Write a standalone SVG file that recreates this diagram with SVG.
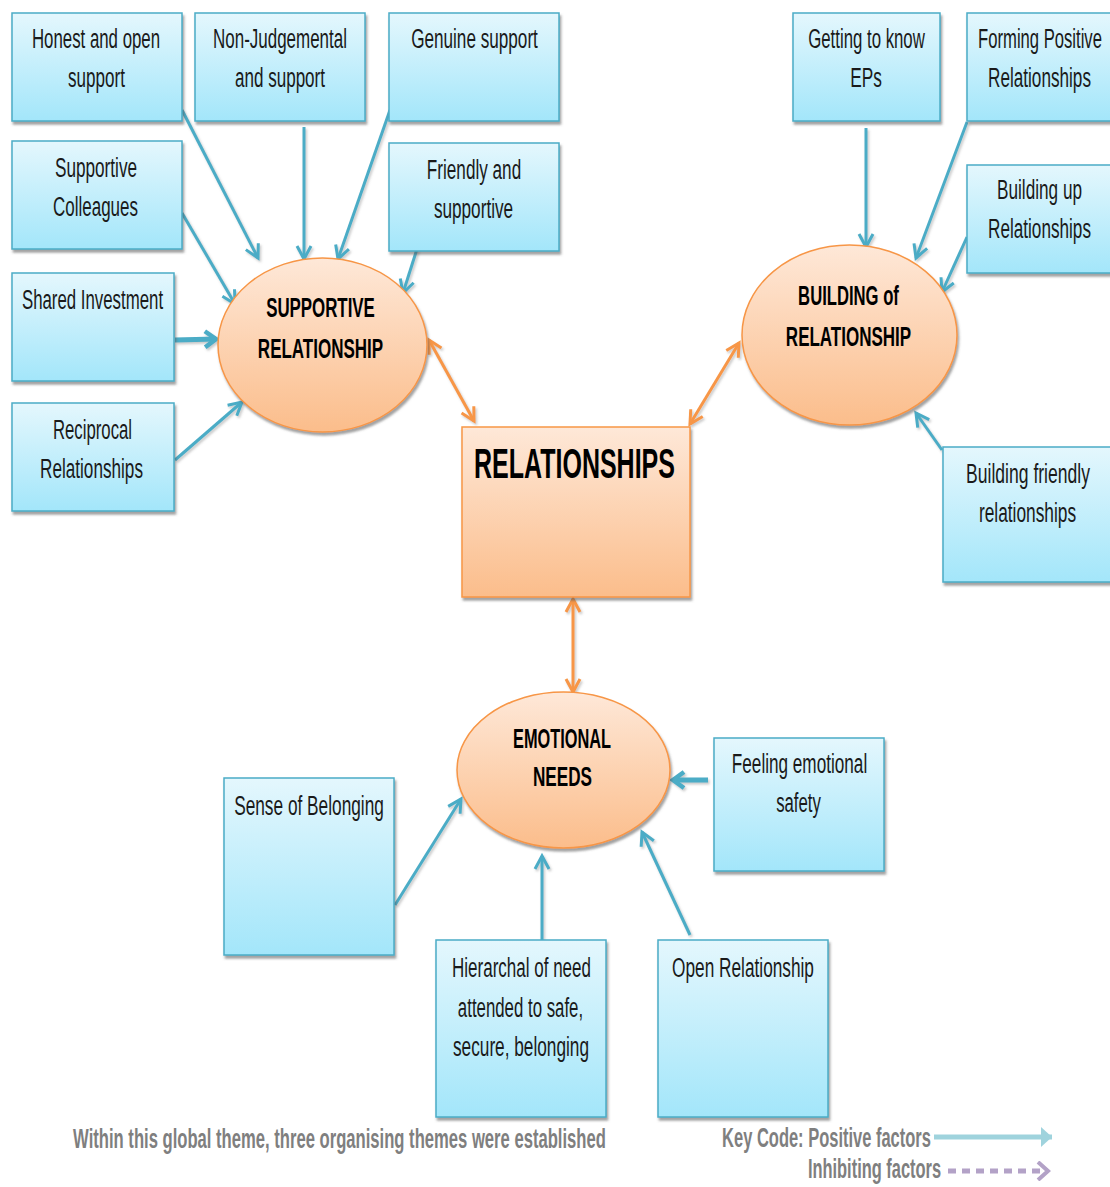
<svg xmlns="http://www.w3.org/2000/svg" width="1110" height="1187" viewBox="0 0 1110 1187">
  <defs>
    <linearGradient id="gBox" x1="0" y1="0" x2="0" y2="1">
      <stop offset="0" stop-color="#e4f7fd"/>
      <stop offset="1" stop-color="#a3e6fa"/>
    </linearGradient>
    <linearGradient id="gOrange" x1="0" y1="0" x2="0" y2="1">
      <stop offset="0" stop-color="#fee8d8"/>
      <stop offset="1" stop-color="#fbbd8b"/>
    </linearGradient>
    <filter id="shadow" x="-10%" y="-10%" width="130%" height="130%">
      <feDropShadow dx="1.5" dy="3" stdDeviation="1.2" flood-color="#555" flood-opacity="0.55"/>
    </filter>
    <filter id="lineShadow" x="-10%" y="-10%" width="130%" height="130%">
      <feDropShadow dx="1.5" dy="2" stdDeviation="1" flood-color="#666" flood-opacity="0.35"/>
    </filter>
    <marker id="headBlue" viewBox="-16 -10 20 20" markerWidth="20" markerHeight="20" refX="0" refY="0" orient="auto" markerUnits="userSpaceOnUse">
      <path d="M-13,-7 L0,0 L-13,7" fill="none" stroke="#4bacc6" stroke-width="3" stroke-linejoin="miter"/>
    </marker>
    <marker id="headBlueThick" viewBox="-16 -10 20 20" markerWidth="20" markerHeight="20" refX="0" refY="0" orient="auto" markerUnits="userSpaceOnUse">
      <path d="M-11,-8 L0,0 L-11,8" fill="none" stroke="#4bacc6" stroke-width="4.5" stroke-linejoin="miter"/>
    </marker>
    <marker id="headOrange" viewBox="-16 -10 20 20" markerWidth="20" markerHeight="20" refX="0" refY="0" orient="auto-start-reverse" markerUnits="userSpaceOnUse">
      <path d="M-13,-7 L0,0 L-13,7" fill="none" stroke="#f79646" stroke-width="3" stroke-linejoin="miter"/>
    </marker>
    <marker id="headKeyBlue" viewBox="-16 -10 20 20" markerWidth="20" markerHeight="20" refX="0" refY="0" orient="auto" markerUnits="userSpaceOnUse">
      <path d="M-11,-10 L0,0 L-11,10 Z" fill="#9fd3dd"/>
    </marker>
    <marker id="headKeyPurple" viewBox="-16 -10 20 20" markerWidth="20" markerHeight="20" refX="0" refY="0" orient="auto" markerUnits="userSpaceOnUse">
      <path d="M-10,-9 L0,0 L-10,9" fill="none" stroke="#b3a2c7" stroke-width="4"/>
    </marker>
  </defs>
  <style>
    .box { fill: url(#gBox); stroke: #4bacc6; stroke-width: 1.5; filter: url(#shadow); }
    .hub { fill: url(#gOrange); stroke: #f79646; stroke-width: 1.5; filter: url(#shadow); }
    text { font-family: "Liberation Sans", Arial, sans-serif; font-size: 28px; text-anchor: middle; }
    .lbl { fill: #1a1a1a; }
    .hubLbl { font-weight: bold; fill: #000; }
    .big { font-size: 42px; }
    .note { font-weight: bold; fill: #7f7f7f; }
    .pos { fill: none; stroke: #4bacc6; stroke-width: 3; marker-end: url(#headBlue); }
    .posThick { fill: none; stroke: #4bacc6; stroke-width: 5; marker-end: url(#headBlueThick); }
    .link { fill: none; stroke: #f79646; stroke-width: 3; marker-start: url(#headOrange); marker-end: url(#headOrange); }
  </style>

  <rect width="1110" height="1187" fill="#ffffff"/>

  <!-- connectors -->
  <g id="connectors" filter="url(#lineShadow)">
    <line class="pos" x1="182" y1="110" x2="258" y2="258"/>
    <line class="pos" x1="304" y1="127" x2="304" y2="259"/>
    <line class="pos" x1="390" y1="110" x2="338" y2="259"/>
    <line class="pos" x1="182" y1="213" x2="235" y2="304"/>
    <line class="pos" x1="417" y1="249" x2="403" y2="293"/>
    <line class="posThick" x1="175" y1="340" x2="216" y2="339"/>
    <line class="pos" x1="175" y1="460" x2="242" y2="402"/>
    <line class="pos" x1="866" y1="128" x2="866" y2="247"/>
    <line class="pos" x1="967" y1="122" x2="916" y2="258"/>
    <line class="pos" x1="967" y1="237" x2="942" y2="292"/>
    <line class="pos" x1="942" y1="450" x2="916" y2="413"/>
    <line class="pos" x1="395" y1="905" x2="461" y2="799"/>
    <line class="pos" x1="542" y1="942" x2="542" y2="856"/>
    <line class="pos" x1="690" y1="935" x2="642" y2="832"/>
    <line class="posThick" x1="708" y1="780" x2="673" y2="780"/>
    <line class="link" x1="429" y1="340" x2="474" y2="421"/>
    <line class="link" x1="739" y1="343" x2="690" y2="424"/>
    <line class="link" x1="573" y1="599" x2="573" y2="692"/>
  </g>

  <!-- central theme -->
  <g id="n-relationships">
    <rect class="hub" x="462" y="427" width="228" height="170"/>
    <text class="hubLbl big" transform="translate(574.5,478) scale(0.72,1)" textLength="279" lengthAdjust="spacingAndGlyphs">RELATIONSHIPS</text>
  </g>

  <!-- organising themes -->
  <g id="n-supportive">
    <ellipse class="hub" cx="322.5" cy="345" rx="104.5" ry="87"/>
    <text class="hubLbl" transform="translate(320.5,317) scale(0.72,1)" textLength="151" lengthAdjust="spacingAndGlyphs">SUPPORTIVE</text>
    <text class="hubLbl" transform="translate(320.5,358) scale(0.72,1)" textLength="174" lengthAdjust="spacingAndGlyphs">RELATIONSHIP</text>
  </g>
  <g id="n-building">
    <ellipse class="hub" cx="849.5" cy="335" rx="107.5" ry="90"/>
    <text class="hubLbl" transform="translate(848.5,305) scale(0.72,1)" textLength="140" lengthAdjust="spacingAndGlyphs">BUILDING of</text>
    <text class="hubLbl" transform="translate(848.5,346) scale(0.72,1)" textLength="174" lengthAdjust="spacingAndGlyphs">RELATIONSHIP</text>
  </g>
  <g id="n-emotional">
    <ellipse class="hub" cx="563.5" cy="770" rx="106.5" ry="78"/>
    <text class="hubLbl" transform="translate(562,748) scale(0.72,1)" textLength="136" lengthAdjust="spacingAndGlyphs">EMOTIONAL</text>
    <text class="hubLbl" transform="translate(562.5,786) scale(0.72,1)" textLength="82" lengthAdjust="spacingAndGlyphs">NEEDS</text>
  </g>

  <!-- basic themes -->
  <g id="n-honest">
    <rect class="box" x="12" y="13" width="170" height="108"/>
    <text class="lbl" transform="translate(96,48) scale(0.72,1)" textLength="178" lengthAdjust="spacingAndGlyphs">Honest and open</text>
    <text class="lbl" transform="translate(96.5,87) scale(0.72,1)" textLength="79" lengthAdjust="spacingAndGlyphs">support</text>
  </g>
  <g id="n-nonjudgemental">
    <rect class="box" x="195" y="13" width="170" height="108"/>
    <text class="lbl" transform="translate(280,48) scale(0.72,1)" textLength="186" lengthAdjust="spacingAndGlyphs">Non-Judgemental</text>
    <text class="lbl" transform="translate(280,87) scale(0.72,1)" textLength="125" lengthAdjust="spacingAndGlyphs">and support</text>
  </g>
  <g id="n-genuine">
    <rect class="box" x="389" y="13" width="170" height="108"/>
    <text class="lbl" transform="translate(474.5,48) scale(0.72,1)" textLength="176" lengthAdjust="spacingAndGlyphs">Genuine support</text>
  </g>
  <g id="n-colleagues">
    <rect class="box" x="12" y="141" width="170" height="108"/>
    <text class="lbl" transform="translate(96,177) scale(0.72,1)" textLength="114" lengthAdjust="spacingAndGlyphs">Supportive</text>
    <text class="lbl" transform="translate(95.5,216) scale(0.72,1)" textLength="118" lengthAdjust="spacingAndGlyphs">Colleagues</text>
  </g>
  <g id="n-friendly">
    <rect class="box" x="389" y="143" width="170" height="108"/>
    <text class="lbl" transform="translate(474,179) scale(0.72,1)" textLength="131" lengthAdjust="spacingAndGlyphs">Friendly and</text>
    <text class="lbl" transform="translate(473.5,218) scale(0.72,1)" textLength="110" lengthAdjust="spacingAndGlyphs">supportive</text>
  </g>
  <g id="n-shared">
    <rect class="box" x="12" y="273" width="162" height="108"/>
    <text class="lbl" transform="translate(92.5,309) scale(0.72,1)" textLength="196" lengthAdjust="spacingAndGlyphs">Shared Investment</text>
  </g>
  <g id="n-reciprocal">
    <rect class="box" x="12" y="403" width="162" height="108"/>
    <text class="lbl" transform="translate(92.5,439) scale(0.72,1)" textLength="110" lengthAdjust="spacingAndGlyphs">Reciprocal</text>
    <text class="lbl" transform="translate(91.5,478) scale(0.72,1)" textLength="143" lengthAdjust="spacingAndGlyphs">Relationships</text>
  </g>
  <g id="n-getting">
    <rect class="box" x="793" y="13" width="147" height="108"/>
    <text class="lbl" transform="translate(866.5,48) scale(0.72,1)" textLength="162" lengthAdjust="spacingAndGlyphs">Getting to know</text>
    <text class="lbl" transform="translate(866,87) scale(0.72,1)" textLength="44" lengthAdjust="spacingAndGlyphs">EPs</text>
  </g>
  <g id="n-forming">
    <rect class="box" x="967" y="13" width="148" height="108"/>
    <text class="lbl" transform="translate(1040,48) scale(0.72,1)" textLength="172" lengthAdjust="spacingAndGlyphs">Forming Positive</text>
    <text class="lbl" transform="translate(1039.5,87) scale(0.72,1)" textLength="143" lengthAdjust="spacingAndGlyphs">Relationships</text>
  </g>
  <g id="n-buildingup">
    <rect class="box" x="967" y="165" width="148" height="108"/>
    <text class="lbl" transform="translate(1039.5,199) scale(0.72,1)" textLength="118" lengthAdjust="spacingAndGlyphs">Building up</text>
    <text class="lbl" transform="translate(1039.5,238) scale(0.72,1)" textLength="143" lengthAdjust="spacingAndGlyphs">Relationships</text>
  </g>
  <g id="n-friendlyrel">
    <rect class="box" x="943" y="447" width="172" height="135"/>
    <text class="lbl" transform="translate(1028,483) scale(0.72,1)" textLength="172" lengthAdjust="spacingAndGlyphs">Building friendly</text>
    <text class="lbl" transform="translate(1027.5,522) scale(0.72,1)" textLength="135" lengthAdjust="spacingAndGlyphs">relationships</text>
  </g>
  <g id="n-belonging">
    <rect class="box" x="224" y="778" width="170" height="177"/>
    <text class="lbl" transform="translate(309,815) scale(0.72,1)" textLength="208" lengthAdjust="spacingAndGlyphs">Sense of Belonging</text>
  </g>
  <g id="n-hierarchal">
    <rect class="box" x="436" y="940" width="170" height="177"/>
    <text class="lbl" transform="translate(521.5,977) scale(0.72,1)" textLength="193" lengthAdjust="spacingAndGlyphs">Hierarchal of need</text>
    <text class="lbl" transform="translate(520.5,1017) scale(0.72,1)" textLength="174" lengthAdjust="spacingAndGlyphs">attended to safe,</text>
    <text class="lbl" transform="translate(521,1056) scale(0.72,1)" textLength="189" lengthAdjust="spacingAndGlyphs">secure, belonging</text>
  </g>
  <g id="n-open">
    <rect class="box" x="658" y="940" width="170" height="177"/>
    <text class="lbl" transform="translate(743,977) scale(0.72,1)" textLength="197" lengthAdjust="spacingAndGlyphs">Open Relationship</text>
  </g>
  <g id="n-safety">
    <rect class="box" x="714" y="738" width="170" height="133"/>
    <text class="lbl" transform="translate(799.5,773) scale(0.72,1)" textLength="188" lengthAdjust="spacingAndGlyphs">Feeling emotional</text>
    <text class="lbl" transform="translate(798.5,812) scale(0.72,1)" textLength="62" lengthAdjust="spacingAndGlyphs">safety</text>
  </g>

  <!-- caption and key -->
  <g id="caption">
    <text class="note" transform="translate(339.5,1148) scale(0.72,1)" textLength="740" lengthAdjust="spacingAndGlyphs">Within this global theme, three organising themes were established</text>
  </g>
  <g id="key">
    <text class="note" transform="translate(826.5,1147) scale(0.72,1)" textLength="290" lengthAdjust="spacingAndGlyphs">Key Code: Positive factors</text>
    <text class="note" transform="translate(874.5,1178) scale(0.72,1)" textLength="185" lengthAdjust="spacingAndGlyphs">Inhibiting factors</text>
    <line x1="934" y1="1137" x2="1052" y2="1137" stroke="#9fd3dd" stroke-width="5" marker-end="url(#headKeyBlue)"/>
    <line x1="948" y1="1171" x2="1048" y2="1171" stroke="#b3a2c7" stroke-width="5" stroke-dasharray="8 6" marker-end="url(#headKeyPurple)"/>
  </g>
</svg>
